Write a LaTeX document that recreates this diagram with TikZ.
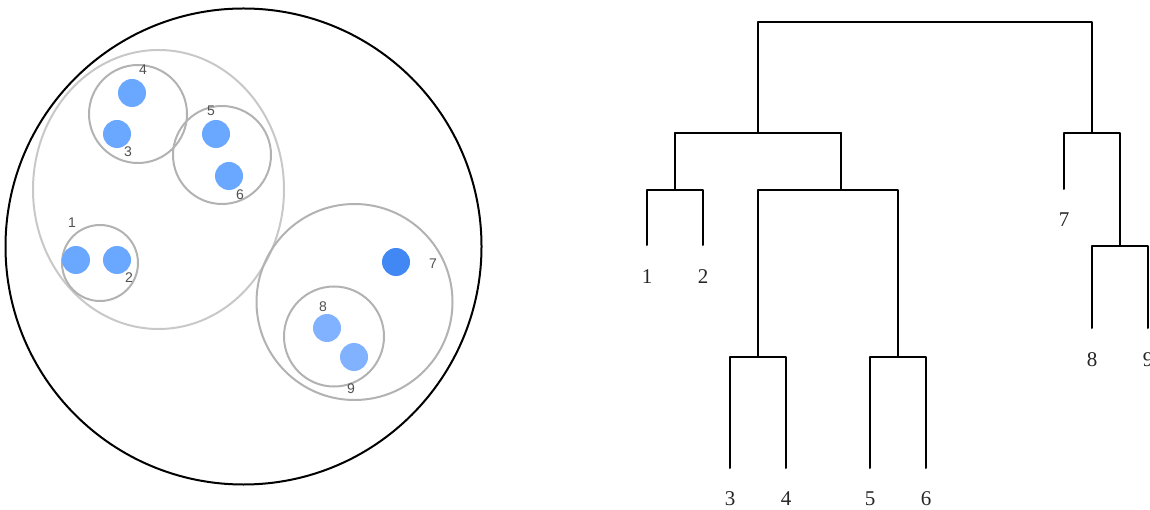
\documentclass[tikz,border=0pt]{standalone}
\usepackage{fontspec}
\setmainfont{Liberation Serif}
\newfontfamily\lblsans{Liberation Sans}
\definecolor{dotA}{RGB}{106,168,255}
\definecolor{dotB}{RGB}{66,136,245}
\definecolor{dotC}{RGB}{128,178,255}
\definecolor{ringA}{RGB}{200,200,200}
\definecolor{ringB}{RGB}{178,178,178}
\definecolor{lblgray}{RGB}{80,80,80}
\tikzset{
  outer/.style={draw=black, line width=2pt},
  ring/.style={draw=ringB, line width=2pt},
  ringlight/.style={draw=ringA, line width=2pt},
  dot/.style={circle, inner sep=0pt, minimum size=28pt},
  plbl/.style={font=\lblsans\fontsize{14}{14}\selectfont, text=lblgray, inner sep=0pt},
  tree/.style={draw=black, line width=2pt, line join=round, line cap=round},
  dlbl/.style={font=\fontsize{21}{21}\selectfont, text=black!85, inner sep=0pt}
}
\begin{document}
\begin{tikzpicture}[x=1pt,y=-1pt]
\useasboundingbox (0,0) rectangle (1150,510);
% ---- left: nested clusters ----
\draw[outer] (243.5,246.5) circle (238);
\draw[ringlight] (158.5,189.5) ellipse (125.5 and 139.5);
\draw[ring] (138,114) circle (49);
\draw[ring] (222,155) circle (49);
\draw[ring] (100,263) circle (38);
\draw[ring] (354.5,302) circle (98);
\draw[ring] (334,336.5) circle (50);
\node[dot, fill=dotA] (p4) at (132,93) {};
\node[dot, fill=dotA] (p3) at (117,134) {};
\node[dot, fill=dotA] (p5) at (216,134) {};
\node[dot, fill=dotA] (p6) at (229,176) {};
\node[dot, fill=dotA] (p1) at (76,260) {};
\node[dot, fill=dotA] (p2) at (117,260) {};
\node[dot, fill=dotB] (p7) at (396,262) {};
\node[dot, fill=dotC] (p8) at (327,328) {};
\node[dot, fill=dotC] (p9) at (354,357) {};
\node[plbl] (l4) at (143,70) {4};
\node[plbl] (l3) at (128,152) {3};
\node[plbl] (l5) at (211,111) {5};
\node[plbl] (l6) at (240,195) {6};
\node[plbl] (l1) at (72,223) {1};
\node[plbl] (l2) at (129,278) {2};
\node[plbl] (l7) at (433,264) {7};
\node[plbl] (l8) at (323,307) {8};
\node[plbl] (l9) at (351,389) {9};
% ---- right: dendrogram ----
\coordinate (d1) at (647,245);
\coordinate (d2) at (703,245);
\coordinate (d3) at (730,468);
\coordinate (d4) at (786,468);
\coordinate (d5) at (870,468);
\coordinate (d6) at (926,468);
\coordinate (d7) at (1064,189);
\coordinate (d8) at (1092,328);
\coordinate (d9) at (1148,328);
\draw[tree] (d1) -- (647,190) -- (703,190) -- (d2);
\draw[tree] (675,190) -- (675,133);
\draw[tree] (d3) -- (730,357) -- (786,357) -- (d4);
\draw[tree] (d5) -- (870,357) -- (926,357) -- (d6);
\draw[tree] (758,357) -- (758,190) -- (898,190) -- (898,357);
\draw[tree] (841,190) -- (841,133);
\draw[tree] (675,133) -- (841,133);
\draw[tree] (758,133) -- (758,22) -- (1092,22) -- (1092,133);
\draw[tree] (d7) -- (1064,133) -- (1120,133) -- (1120,246);
\draw[tree] (d8) -- (1092,246) -- (1148,246) -- (d9);
\node[dlbl] (t1) at (647,277) {1};
\node[dlbl] (t2) at (703,277) {2};
\node[dlbl] (t3) at (730,499) {3};
\node[dlbl] (t4) at (786,499) {4};
\node[dlbl] (t5) at (870,499) {5};
\node[dlbl] (t6) at (926,499) {6};
\node[dlbl] (t7) at (1064,220) {7};
\node[dlbl] (t8) at (1092,360) {8};
\node[dlbl] (t9) at (1148,360) {9};
\end{tikzpicture}
\end{document}
